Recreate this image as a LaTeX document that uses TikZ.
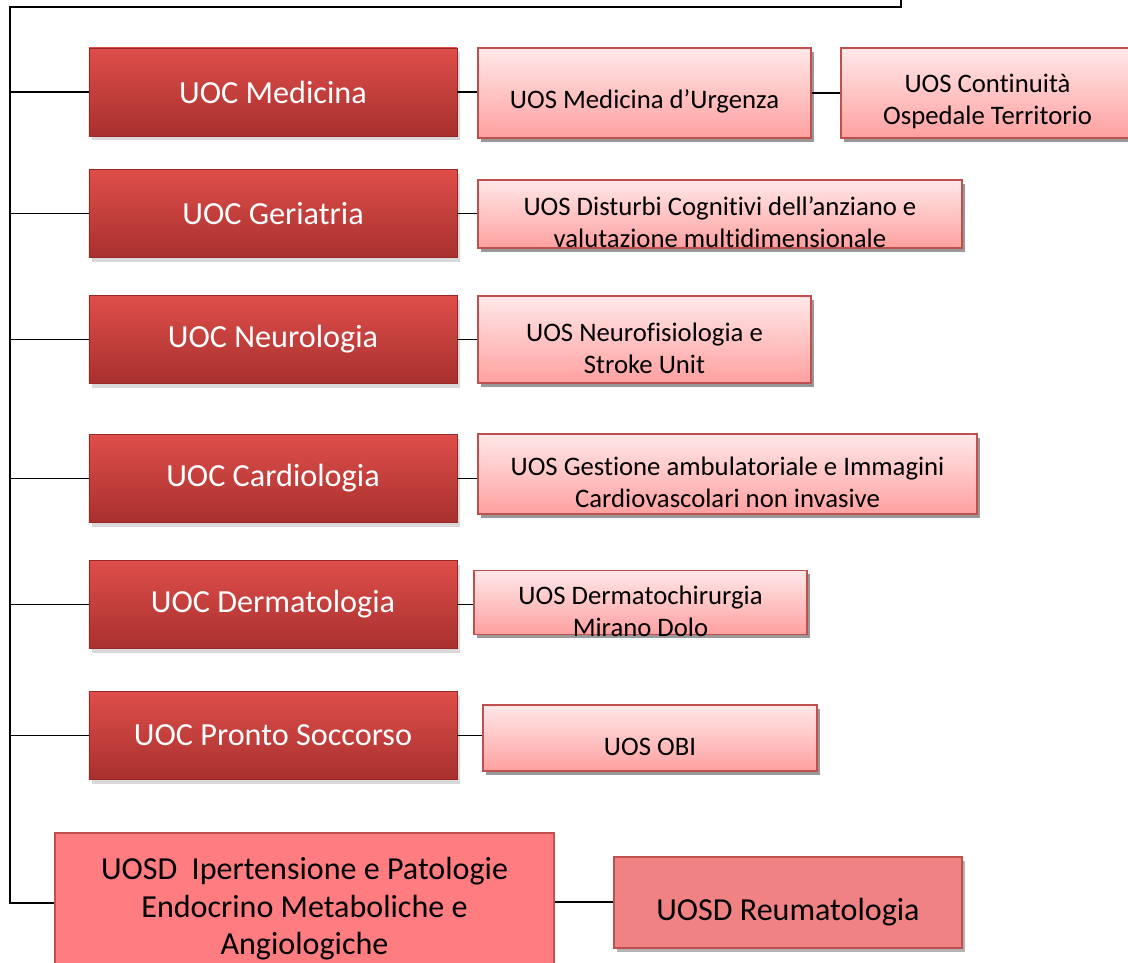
\documentclass[tikz,border=0pt]{standalone}
\usepackage{fontspec}
\setmainfont{Carlito}[Ligatures=NoCommon]
\usetikzlibrary{shadows,positioning}
\definecolor{ucTop}{RGB}{222,78,74}
\definecolor{ucBot}{RGB}{168,48,46}
\definecolor{ucBorder}{RGB}{150,40,38}
\definecolor{usTop}{RGB}{255,232,232}
\definecolor{usBot}{RGB}{255,160,160}
\definecolor{usBorder}{RGB}{192,80,77}
\definecolor{ipFill}{RGB}{255,124,128}
\definecolor{reFill}{RGB}{240,130,131}
\tikzset{
  ucbox/.style={
    rectangle,
    draw=ucBorder,
    top color=ucTop,
    bottom color=ucBot,
    text=white,
    minimum width=9.2cm,
    minimum height=2.2cm,
    font=\fontsize{22.9}{27}\selectfont,
    drop shadow={shadow xshift=2pt, shadow yshift=-3pt, opacity=0.3}
  },
  usbox/.style={
    rectangle,
    draw=usBorder,
    line width=1pt,
    top color=usTop,
    bottom color=usBot,
    align=center,
    inner sep=1pt,
    font=\fontsize{19}{22.8}\selectfont,
    alza=25.5pt,
    drop shadow={shadow xshift=2pt, shadow yshift=-2.5pt, fill=black!50, opacity=0.8}
  },
  uosdbox/.style={
    rectangle,
    draw=usBorder,
    line width=1pt,
    align=center,
    inner sep=1pt,
    font=\fontsize{22.8}{26.7}\selectfont,
    alza=29pt
  },
  alza/.style={execute at begin node={\rule{0pt}{#1}}},
  conn/.style={
    black,
    line width=1.3pt
  }
}

\begin{document}
\begin{tikzpicture}[x=0.025cm,y=-0.025cm]
    \useasboundingbox (0,0) rectangle (1128,962);

    %-------------------------
    % UOC
    %-------------------------
    \node[ucbox] (med) at (273,92) {UOC Medicina};
    \node[ucbox] (ger) at (273,213.5) {UOC Geriatria};
    \node[ucbox] (neu) at (273,339.5) {UOC Neurologia};
    \node[ucbox] (car) at (273,478.5) {UOC Cardiologia};
    \node[ucbox] (der) at (273,604.5) {UOC Dermatologia};
    \node[ucbox] (pro) at (273,735.5) {UOC Pronto Soccorso};

    %-------------------------
    % UOS
    %-------------------------
    \node[usbox,minimum width=8.325cm,minimum height=2.25cm] (urg) at (644.5,93) {UOS Medicina d’Urgenza};
    \node[usbox,alza=48pt,minimum width=7.325cm,minimum height=2.25cm] (cont) at (987.5,93) {UOS Continuità\\Ospedale Territorio};
    \node[usbox,alza=48pt,inner ysep=0pt,minimum width=12.1cm,minimum height=1.7cm] (dist) at (720,214) {UOS Disturbi Cognitivi dell’anziano e\\valutazione multidimensionale};
    \node[usbox,alza=48pt,minimum width=8.325cm,minimum height=2.175cm] (nfis) at (644.5,339.5) {UOS Neurofisiologia e\\Stroke Unit};
    \node[usbox,alza=48pt,minimum width=12.475cm,minimum height=2cm] (gest) at (727.5,474) {UOS Gestione ambulatoriale e Immagini\\Cardiovascolari non invasive};
    \node[usbox,alza=48pt,inner ysep=-1.5pt,minimum width=8.325cm,minimum height=1.575cm] (dchi) at (640.5,602.5) {UOS Dermatochirurgia\\Mirano Dolo};
    \node[usbox,minimum width=8.35cm,minimum height=1.65cm] (obi) at (650,738) {UOS OBI};

    %-------------------------
    % UOSD
    %-------------------------
    \node[uosdbox,alza=79pt,fill=ipFill,minimum width=12.475cm,minimum height=3.45cm] (ipt) at (304.5,902) {UOSD\ \ Ipertensione e Patologie\\Endocrino Metaboliche e\\Angiologiche};
    \node[uosdbox,fill=reFill,minimum width=8.7cm,minimum height=2.275cm,
      drop shadow={shadow xshift=2pt, shadow yshift=-2.5pt, fill=black!50, opacity=0.6}] (reu) at (788,902.5) {UOSD Reumatologia};

    %-------------------------
    % linee
    %-------------------------
    \coordinate (t0) at (901,-10);
    \coordinate (t1) at (901,7);
    \coordinate (t2) at (10,7);
    \coordinate (t3) at (10,903);
    \draw[conn] (t0) -- (t1) -- (t2) -- (t3) -- (ipt.west |- t3);

    \foreach \n in {med,ger,neu,car,der,pro}
      \draw[conn] (t2 |- \n.west) -- (\n.west);

    \draw[conn] (med.east) -- (urg.west |- med.east);
    \draw[conn] (urg.east) -- (cont.west);
    \draw[conn] (ger.east) -- (dist.west |- ger.east);
    \draw[conn] (neu.east) -- (nfis.west |- neu.east);
    \draw[conn] (car.east) -- (gest.west |- car.east);
    \draw[conn] (der.east) -- (dchi.west |- der.east);
    \draw[conn] (pro.east) -- (obi.west |- pro.east);
    \draw[conn] (ipt.east) -- (reu.west |- ipt.east);
\end{tikzpicture}
\end{document}
